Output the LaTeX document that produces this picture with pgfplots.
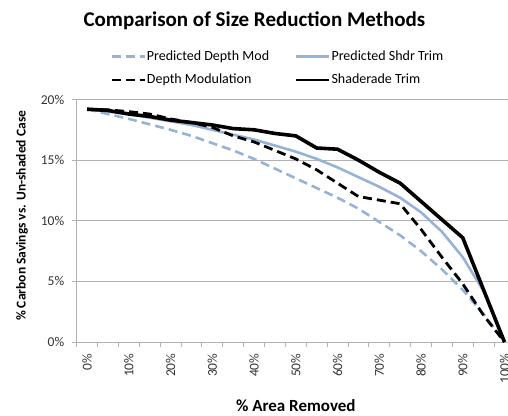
\documentclass[border=0pt]{standalone}
\usepackage{pgfplots}
\pgfplotsset{compat=1.18}
\usepackage{fontspec}
\setmainfont{Carlito}
\definecolor{lblue}{RGB}{149,179,215}
\definecolor{gridgray}{RGB}{178,178,178}
\begin{document}
\begin{tikzpicture}[x=1pt,y=1pt]
\begin{axis}[
  scale only axis, width=431.3pt, height=242.5pt,
  at={(76.7pt,73pt)}, anchor=south west,
  xmin=-0.5, xmax=20.17, ymin=0, ymax=20,
  clip=false,
  axis x line*=bottom, axis y line*=left,
  axis line style={draw=gridgray, line width=0.8pt},
  tick align=outside,
  major tick length=5pt, minor tick length=5pt,
  tick style={draw=gridgray, line width=0.8pt},
  xtick={0,2,...,20},
  xticklabels={0\%,10\%,20\%,30\%,40\%,50\%,60\%,70\%,80\%,90\%,100\%},
  minor xtick={-0.5,0.5,...,19.5},
  major x tick style={draw=none},
  ytick={0,5,10,15,20},
  yticklabels={0\%,5\%,10\%,15\%,20\%},
  ymajorgrids,
  grid style={draw=gridgray, line width=0.8pt},
  ticklabel style={font=\fontsize{13.5}{16}\selectfont, text=black!80},
  xticklabel style={rotate=90, anchor=east},
  xticklabel shift=3pt,
  yticklabel shift=4pt,
  xlabel={\% Area Removed},
  ylabel={\% Carbon Savings vs. Un-shaded Case},
  xlabel style={at={(rel axis cs:0.508,-0.264)}, anchor=center, font=\fontsize{17}{20}\selectfont\bfseries},
  ylabel style={at={(rel axis cs:-0.127,0.52)}, anchor=center, rotate=0, font=\fontsize{13.5}{16}\selectfont\bfseries},
  title={Comparison of Size Reduction Methods},
  title style={at={(rel axis cs:0.412,1.276)}, anchor=base, font=\fontsize{21}{25}\selectfont\bfseries},
  no markers,
  legend columns=2,
  legend cell align=left,
  legend style={draw=none, fill=none, at={(rel axis cs:0.071,1.213)}, anchor=north west,
    font=\fontsize{14}{17}\selectfont, row sep=10pt,
    /tikz/every even column/.append style={column sep=25pt},
    nodes={inner sep=1pt}},
  legend image code/.code={\draw[#1, line width=2.4pt] (0pt,0pt) -- (33pt,0pt);},
]
\addplot[lblue, line width=2.6pt, dash pattern=on 9pt off 5pt] coordinates {
(0,19.2)(1,18.8)(2,18.4)(3,17.95)(4,17.5)(5,17.0)(6,16.4)(7,15.8)(8,15.1)(9,14.3)(10,13.5)
(11,12.7)(12,11.9)(13,11.0)(14,9.9)(15,8.8)(16,7.5)(17,6.0)(18,4.3)(19,2.3)(20,0)};
\addlegendentry{Predicted Depth Mod}
\addplot[lblue, line width=2.6pt] coordinates {
(0,19.2)(1,19.0)(2,18.8)(3,18.5)(4,18.2)(5,17.9)(6,17.5)(7,17.1)(8,16.7)(9,16.2)(10,15.7)
(11,15.1)(12,14.4)(13,13.6)(14,12.8)(15,11.9)(16,10.7)(17,9.1)(18,7.0)(19,4.2)(20,0)};
\addlegendentry{Predicted Shdr Trim}
\addplot[black, line width=2.8pt, dash pattern=on 9pt off 5pt] coordinates {
(0,19.2)(1,19.15)(2,19.0)(3,18.8)(4,18.4)(5,18.1)(6,17.7)(7,17.0)(8,16.5)(9,15.8)(10,15.1)
(11,14.2)(12,13.1)(13,12.0)(14,11.7)(15,11.4)(16,9.3)(17,7.0)(18,4.8)(19,2.2)(20,0)};
\addlegendentry{Depth Modulation}
\addplot[black, line width=3.6pt] coordinates {
(0,19.2)(1,19.1)(2,18.8)(3,18.6)(4,18.3)(5,18.1)(6,17.9)(7,17.6)(8,17.5)(9,17.2)(10,17.0)
(11,16.0)(12,15.9)(13,15.0)(14,14.0)(15,13.1)(16,11.6)(17,10.1)(18,8.6)(19,4.3)(20,0)};
\addlegendentry{Shaderade Trim}
\end{axis}
\pgfresetboundingbox
\useasboundingbox (0,0) rectangle (508,415);
\end{tikzpicture}
\end{document}
